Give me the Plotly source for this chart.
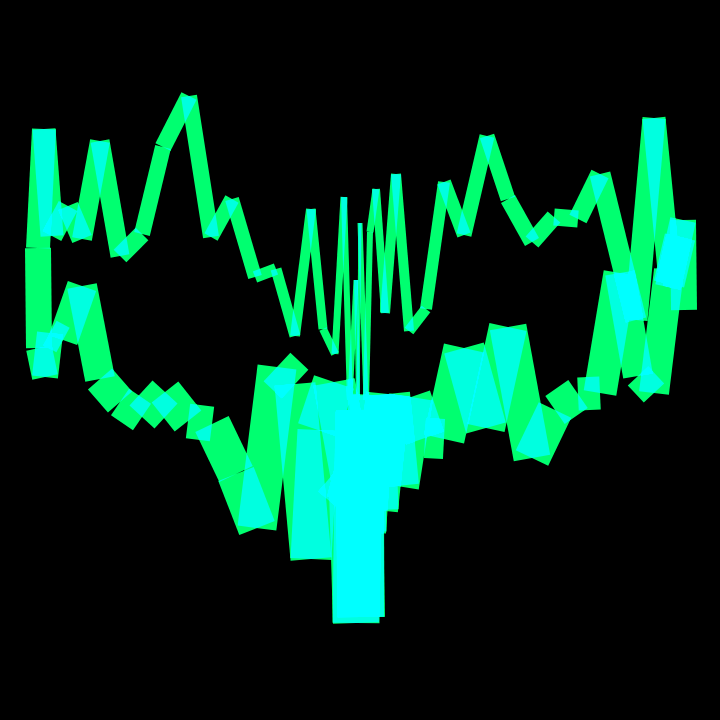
import plotly.graph_objects as go

ring_x = [44,52,68,82,100,120,142,163,189,211,232,255,276,295,311,323,335,344,350,356,358,360,366,370,376,385,396,409,426,444,464,487,508,532,554,578,600,636,654,669,654,638,620,600,578,555,532,508,486,464,444,425,411,397,388,376,372,363,360,361,359,356,352,333,352,334,318,311,295,277,257,236,212,188,165,142,120,100,82,63,50,45,39,38,44]
ring_y = [129,236,206,239,141,256,234,147,96,237,199,277,269,336,209,329,354,197,400,280,400,223,400,232,189,313,174,331,309,182,235,136,199,242,217,219,174,320,118,270,393,376,273,393,394,410,458,327,428,348,439,438,397,486,394,510,395,532,410,617,412,623,490,474,479,382,430,559,384,367,528,474,424,421,392,417,402,379,286,340,333,377,348,248,129]
ring_w = [23,21,21,20,19,18,16,17,16,15,14,12,11,10,9,8,7,6,5,4,3,5,6,7,8,10,10,11,12,14,15,15,16,17,17,19,21,23,23,30,28,30,33,33,34,36,37,38,41,41,40,40,44,44,44,45,46,47,47,47,47,46,46,46,42,42,41,41,39,39,38,37,35,34,34,32,32,30,30,28,26,26,26,24]
tail_x = [684,683,668,680,669]
tail_y = [310,220,287,237,284]
tail_w = [26,26,10,31]
ribbon_color = "rgb(0,255,112)"

fig = go.Figure()
for xs, ys, ws in ((ring_x, ring_y, ring_w), (tail_x, tail_y, tail_w)):
    for i, w in enumerate(ws):
        fig.add_trace(go.Scatter(x=xs[i:i+2], y=ys[i:i+2], mode="lines",
                                 line=dict(color=ribbon_color, width=w),
                                 showlegend=False, hoverinfo="skip"))

fig.update_layout(width=720, height=720, margin=dict(l=0, r=0, t=0, b=0),
                  paper_bgcolor="black", plot_bgcolor="black", showlegend=False,
                  xaxis=dict(range=[0, 720], visible=False),
                  yaxis=dict(range=[720, 0], visible=False))

blend = """
var s=document.createElement('style');
s.textContent='.js-line{mix-blend-mode:plus-lighter;}body{margin:0;background:#000;}';
document.head.appendChild(s);
"""
fig.write_html("out.html", post_script=blend, config=dict(displayModeBar=False))
